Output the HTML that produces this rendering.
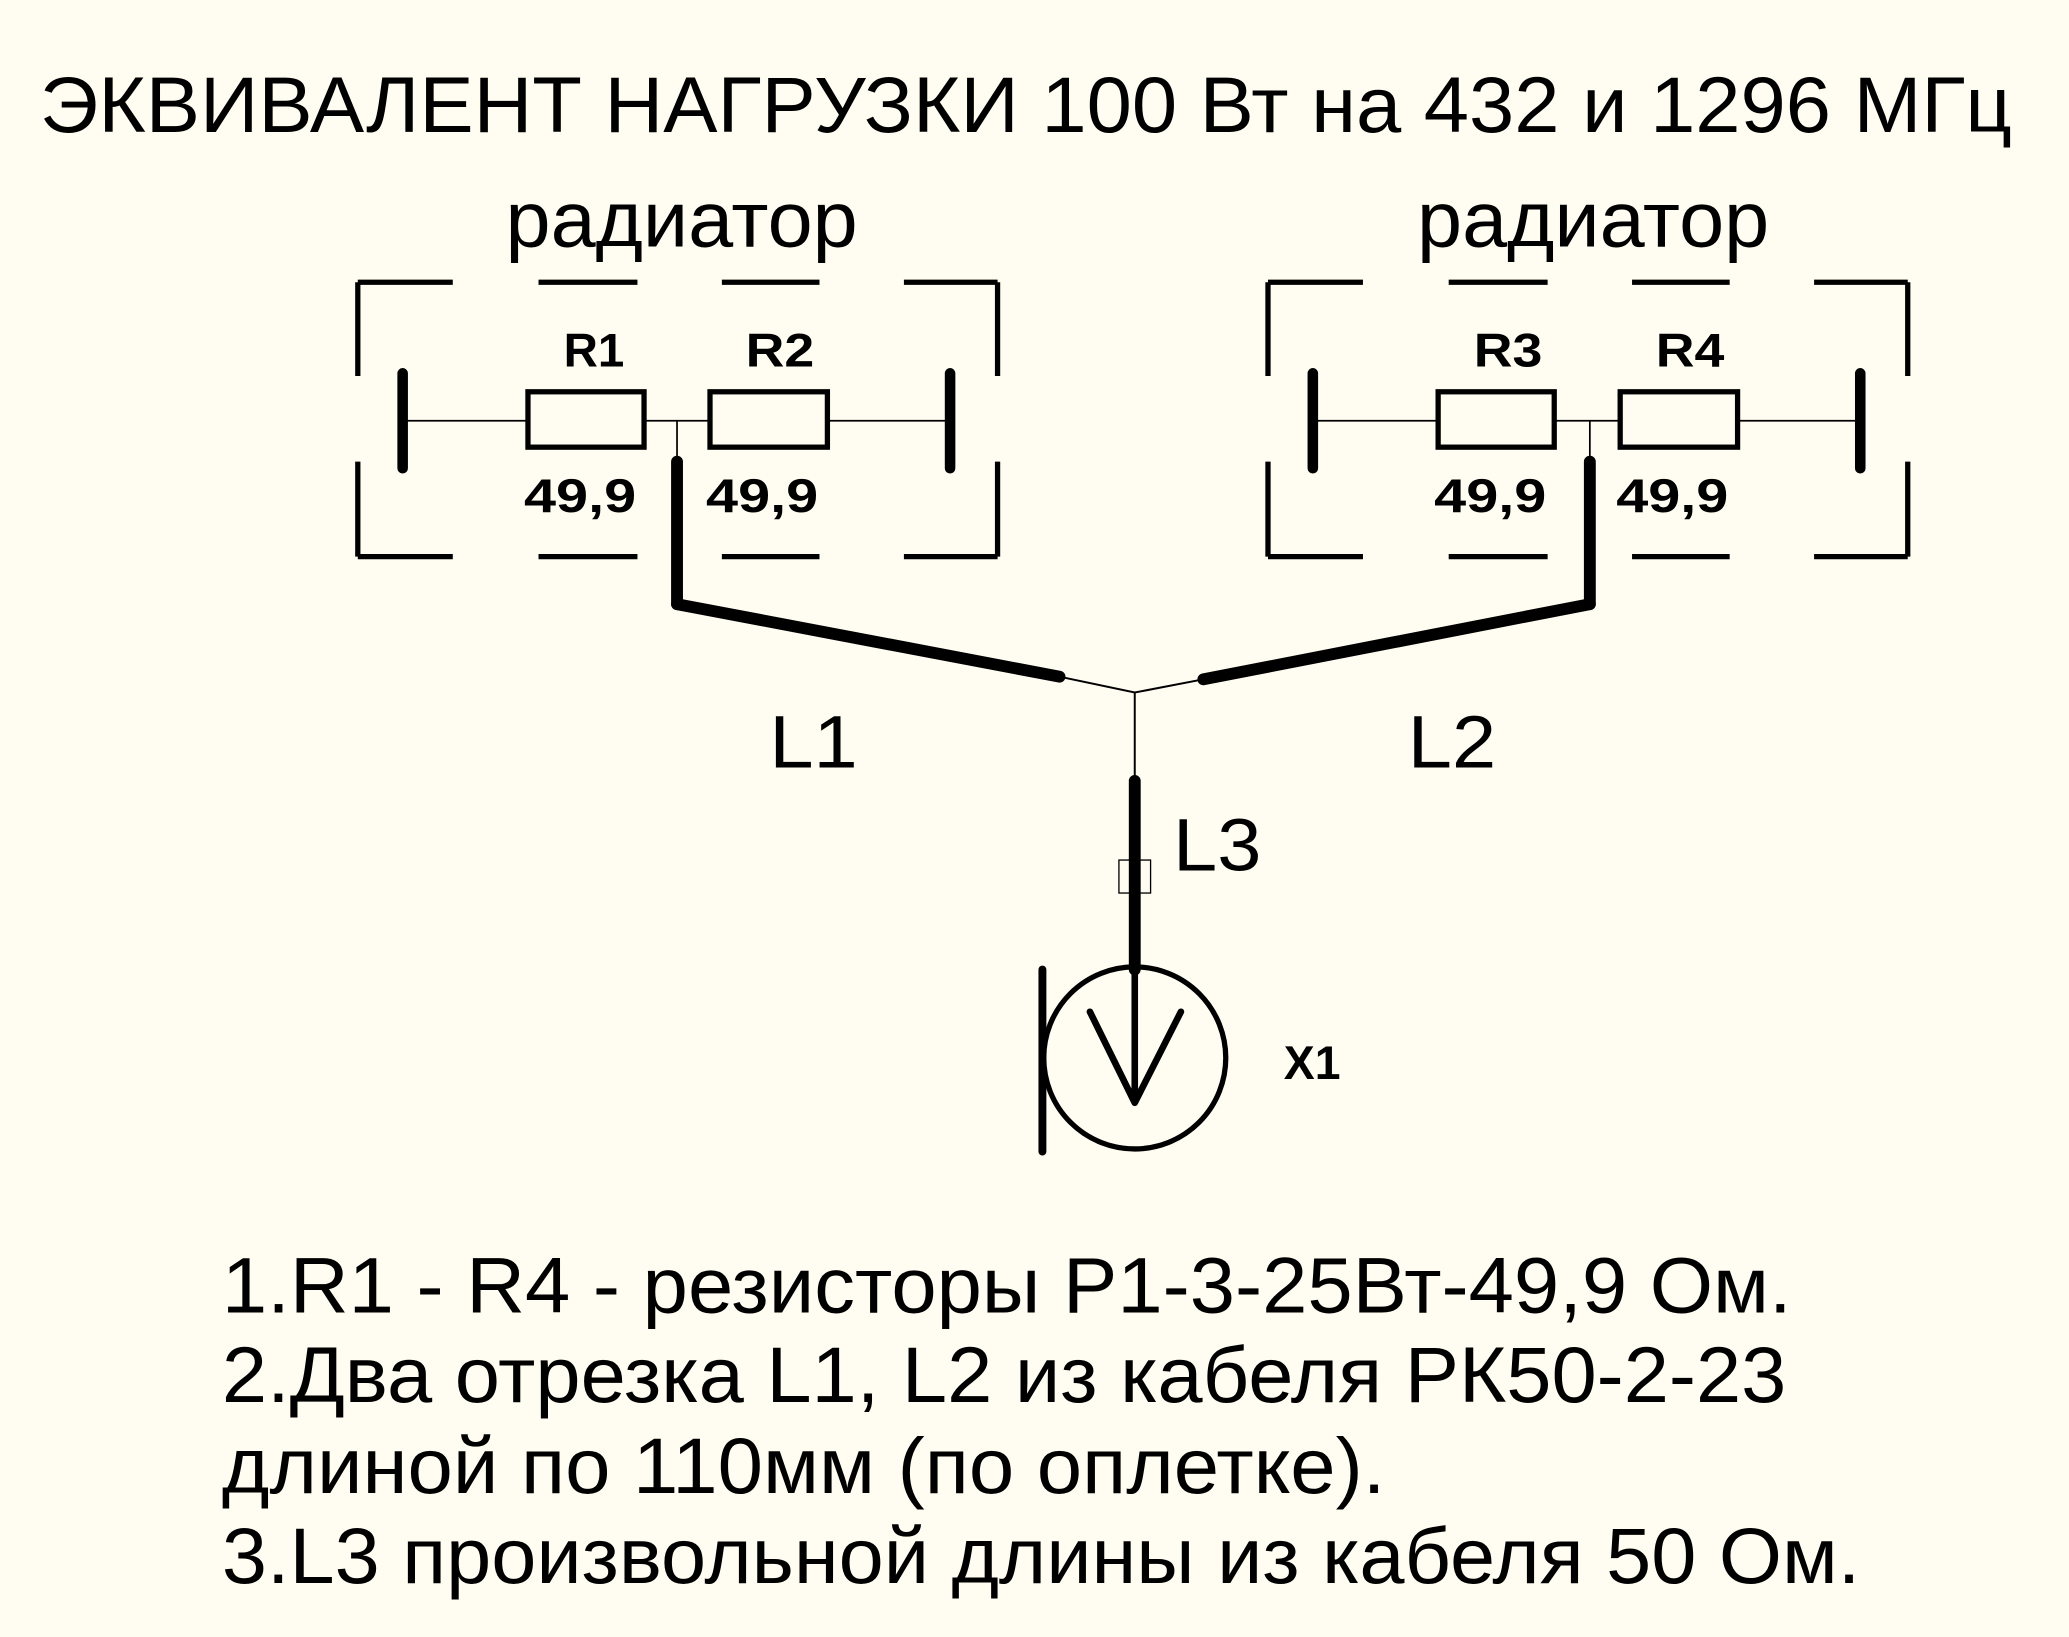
<!DOCTYPE html>
<html><head><meta charset="utf-8"><style>
html,body{margin:0;padding:0;background:#fffdf2;}
svg{display:block;}
text{font-family:"Liberation Sans","DejaVu Sans",sans-serif;fill:#000;}
</style></head><body>
<svg width="2069" height="1637" viewBox="0 0 1568 1241" xmlns="http://www.w3.org/2000/svg">
<rect width="1568" height="1241" fill="#fffdf2"/>
<text x="30" y="100" font-size="60" textLength="1495" lengthAdjust="spacingAndGlyphs">ЭКВИВАЛЕНТ НАГРУЗКИ 100 Вт на 432 и 1296 МГц</text>
<text x="383" y="187" font-size="60" textLength="267" lengthAdjust="spacingAndGlyphs">радиатор</text>
<text x="1074" y="187" font-size="60" textLength="267" lengthAdjust="spacingAndGlyphs">радиатор</text>
<g stroke="#000" fill="none">
 <g stroke-width="4">
  <path d="M271 214H343M408 214H483M547 214H621M685 214H756"/>
  <path d="M271 422H343M408 422H483M547 422H621M685 422H756"/>
  <path d="M271 214V285M271 350V422M756 214V285M756 350V422"/>
 </g>
 <path d="M305 283V355M720 283V355" stroke-width="8" stroke-linecap="round"/>
 <path d="M305 319H400M488 319H538M627 319H720M513 319V350" stroke-width="1.3"/>
 <rect x="400" y="297" width="88" height="42" stroke-width="4"/>
 <rect x="538" y="297" width="89" height="42" stroke-width="4"/>
 <path d="M513 350V458" stroke-width="9" stroke-linecap="round"/>
</g>
<g stroke="#000" fill="none">
 <g stroke-width="4">
  <path d="M961 214H1033M1098 214H1173M1237 214H1311M1375 214H1446"/>
  <path d="M961 422H1033M1098 422H1173M1237 422H1311M1375 422H1446"/>
  <path d="M961 214V285M961 350V422M1446 214V285M1446 350V422"/>
 </g>
 <path d="M995 283V355M1410 283V355" stroke-width="8" stroke-linecap="round"/>
 <path d="M995 319H1090M1178 319H1228M1317 319H1410M1205 319V350" stroke-width="1.3"/>
 <rect x="1090" y="297" width="88" height="42" stroke-width="4"/>
 <rect x="1228" y="297" width="89" height="42" stroke-width="4"/>
 <path d="M1205 350V458" stroke-width="9" stroke-linecap="round"/>
</g>
<g font-weight="bold" font-size="36">
 <text x="427" y="278" textLength="46" lengthAdjust="spacingAndGlyphs">R1</text>
 <text x="565" y="278" textLength="52" lengthAdjust="spacingAndGlyphs">R2</text>
 <text x="1117" y="278" textLength="52" lengthAdjust="spacingAndGlyphs">R3</text>
 <text x="1255" y="278" textLength="52" lengthAdjust="spacingAndGlyphs">R4</text>
 <text x="397" y="388" textLength="85" lengthAdjust="spacingAndGlyphs">49,9</text>
 <text x="535" y="388" textLength="85" lengthAdjust="spacingAndGlyphs">49,9</text>
 <text x="1087" y="388" textLength="85" lengthAdjust="spacingAndGlyphs">49,9</text>
 <text x="1225" y="388" textLength="85" lengthAdjust="spacingAndGlyphs">49,9</text>
 <text x="973" y="818" textLength="43" lengthAdjust="spacingAndGlyphs">X1</text>
</g>
<g stroke="#000" fill="none" stroke-linecap="round">
 <path d="M513 458L803 513M1205 458L912 515" stroke-width="9"/>
 <path d="M803 513L860 525L912 515M860 525V592" stroke-width="1.5"/>
 <path d="M860 592V735" stroke-width="9"/>
 <rect x="848" y="652" width="24" height="25" stroke-width="1" stroke-linecap="butt"/>
 <circle cx="860" cy="802" r="69" stroke-width="4"/>
 <path d="M826 767L860 836L895 767M860 733V836" stroke-width="5" stroke-linejoin="round"/>
 <path d="M790 735V873" stroke-width="6"/>
</g>
<text x="583" y="582" font-size="56" textLength="67" lengthAdjust="spacingAndGlyphs">L1</text>
<text x="1067" y="582" font-size="56" textLength="67" lengthAdjust="spacingAndGlyphs">L2</text>
<text x="889" y="660" font-size="56" textLength="67" lengthAdjust="spacingAndGlyphs">L3</text>
<g font-size="60">
 <text x="168" y="995" textLength="1190" lengthAdjust="spacingAndGlyphs">1.R1 - R4 - резисторы Р1-3-25Вт-49,9 Ом.</text>
 <text x="168" y="1063" textLength="1186" lengthAdjust="spacingAndGlyphs">2.Два отрезка L1, L2 из кабеля РК50-2-23</text>
 <text x="168" y="1132" textLength="882" lengthAdjust="spacingAndGlyphs">длиной по 110мм (по оплетке).</text>
 <text x="168" y="1200" textLength="1242" lengthAdjust="spacingAndGlyphs">3.L3 произвольной длины из кабеля 50 Ом.</text>
</g>
</svg>
</body></html>
